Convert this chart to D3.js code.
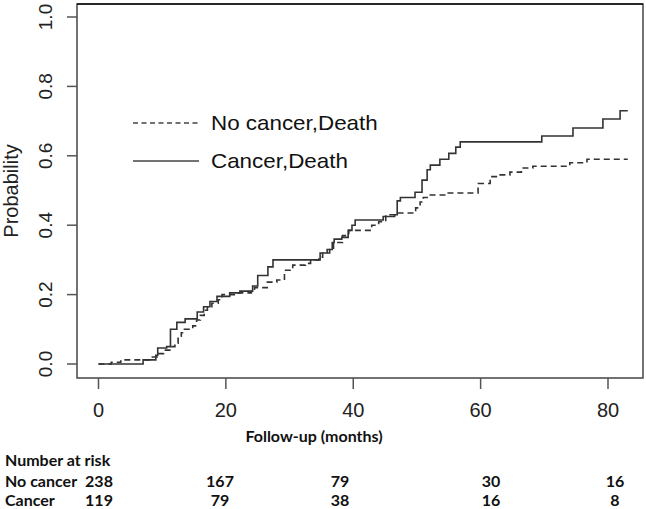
<!DOCTYPE html>
<html><head><meta charset="utf-8">
<script src="https://cdn.jsdelivr.net/npm/d3@7"></script>
<style>body{margin:0;background:#fff}svg{display:block}</style>
</head><body>
<svg id="c" width="646" height="509"></svg>
<script>
// ---- data ----
const cancerTimes = [0,7.0,9.0,9.3,10.7,11.3,12.3,13.6,15.5,16.5,17.5,18.6,20.6,22.2,24.2,25.0,26.6,27.4,34.8,35.9,36.7,37.0,38.2,39.2,39.8,40.3,44.7,46.5,46.9,47.4,49.7,50.8,51.6,52.1,53.6,55.0,56.1,56.8,69.6,74.5,79.2,81.9,83.1];
const cancerProb  = [0,0.012,0.025,0.046,0.05,0.10,0.12,0.13,0.15,0.165,0.18,0.195,0.205,0.21,0.225,0.255,0.28,0.30,0.32,0.33,0.35,0.36,0.365,0.385,0.40,0.415,0.425,0.43,0.47,0.48,0.495,0.53,0.56,0.573,0.59,0.607,0.625,0.64,0.657,0.68,0.706,0.73,0.73];
const noCancerTimes = [0,2.0,3.5,8.0,9.2,10.2,11.2,12.0,12.5,13.0,13.5,14.8,15.4,16.0,16.6,17.1,17.8,18.8,19.4,22.0,24.0,24.5,26.5,28.0,29.2,30.5,32.5,33.3,34.6,35.2,36.3,36.9,38.3,39.3,42.9,44.0,45.1,46.8,49.8,50.5,51.0,51.6,54.7,59.6,61.5,62.6,64.6,66.4,68.2,74.0,76.7,83.1];
const noCancerProb  = [0,0.005,0.012,0.02,0.03,0.04,0.05,0.06,0.08,0.09,0.10,0.11,0.127,0.14,0.155,0.165,0.175,0.185,0.20,0.205,0.213,0.22,0.236,0.242,0.27,0.285,0.29,0.30,0.308,0.32,0.33,0.35,0.37,0.385,0.40,0.41,0.43,0.435,0.45,0.467,0.48,0.487,0.493,0.52,0.54,0.545,0.553,0.565,0.57,0.58,0.59,0.59];
const xTicks = [0,20,40,60,80];
const yTicks = [0,0.2,0.4,0.6,0.8,1.0];
const riskGroups = ["No cancer","Cancer"];
const riskNoCancer = [238,167,79,30,16];
const riskCancer = [119,79,38,16,8];
const legendLabels = ["No cancer,Death","Cancer,Death"];

// ---- layout ----
const svg = d3.select("#c");
const x = d3.scaleLinear().domain([0,80]).range([98.5,608]);
const y = d3.scaleLinear().domain([0,1]).range([364,17]);
const box = {l:77,t:4,r:643,b:378};
const tickFont = "Liberation Sans, Arial, sans-serif";
const tableFont = "Lato, 'Open Sans', sans-serif";

// box
svg.append("path").attr("d",`M${box.l},${box.b}V${box.t}H${box.r}V${box.b}Z`)
  .attr("fill","none").attr("stroke","#444").attr("stroke-width",1.5);
svg.append("line").attr("x1",box.l).attr("x2",box.r).attr("y1",box.t).attr("y2",box.t).attr("stroke","#111").attr("stroke-width",1.5);

// y axis
const ya = svg.append("g");
yTicks.forEach(v=>{
  ya.append("line").attr("x1",box.l).attr("x2",box.l-10).attr("y1",y(v)).attr("y2",y(v)).attr("stroke","#555").attr("stroke-width",1.5);
  ya.append("text").attr("transform",`translate(${box.l-25},${y(v)}) rotate(-90)`)
    .attr("text-anchor","middle").attr("font-family",tickFont).attr("font-size",19).attr("fill","#222")
    .text(d3.format(".1f")(v));
});
svg.append("text").attr("transform",`translate(18,191) rotate(-90)`).attr("text-anchor","middle")
  .attr("font-family",tickFont).attr("font-size",20).attr("fill","#222").text("Probability");

// x axis
const xa = svg.append("g");
xTicks.forEach(v=>{
  xa.append("line").attr("x1",x(v)).attr("x2",x(v)).attr("y1",box.b).attr("y2",box.b+11).attr("stroke","#555").attr("stroke-width",1.5);
  xa.append("text").attr("x",x(v)).attr("y",417).attr("text-anchor","middle")
    .attr("font-family",tickFont).attr("font-size",20).attr("fill","#222").text(v);
});
svg.append("text").attr("x",314).attr("y",442).attr("text-anchor","middle")
  .attr("font-family",tableFont).attr("font-weight","bold").attr("font-size",16).attr("fill","#111").text("Follow-up (months)");

// curves
const line = d3.line().x(d=>x(d[0])).y(d=>y(d[1])).curve(d3.curveStepAfter);
const nc = noCancerTimes.map((t,i)=>[t,noCancerProb[i]]);
const ca = cancerTimes.map((t,i)=>[t,cancerProb[i]]);
svg.append("path").attr("d",line(nc)).attr("fill","none").attr("stroke","#333").attr("stroke-width",1.6).attr("stroke-dasharray","6,4");
svg.append("path").attr("d",line(ca)).attr("fill","none").attr("stroke","#333").attr("stroke-width",1.6);

// legend
const lg = svg.append("g");
legendLabels.forEach((lab,i)=>{
  const ly = 123 + i*38;
  lg.append("line").attr("x1",133).attr("x2",199).attr("y1",ly).attr("y2",ly)
    .attr("stroke","#444").attr("stroke-width",1.5).attr("stroke-dasharray",i===0?"5,3.5":null);
  lg.append("text").attr("transform",`translate(211,${ly+7}) scale(1.12,1)`).attr("font-family",tickFont).attr("font-size",20).attr("fill","#111").text(lab);
});

// risk table
const colX = d3.scaleOrdinal().domain(xTicks).range([99,220,340,491,615]);
svg.append("text").attr("x",5).attr("y",466).attr("font-family",tableFont).attr("font-weight","bold").attr("font-size",16).attr("fill","#111").text("Number at risk");
[riskNoCancer,riskCancer].forEach((row,i)=>{
  const ry = 487 + i*19;
  svg.append("text").attr("x",5).attr("y",ry).attr("font-family",tableFont).attr("font-weight","bold").attr("font-size",16).attr("fill","#111").text(riskGroups[i]);
  row.forEach((n,j)=>{
    svg.append("text").attr("x",colX(xTicks[j])).attr("y",ry).attr("text-anchor","middle")
      .attr("font-family",tableFont).attr("font-weight","bold").attr("font-size",16).attr("fill","#111").text(n);
  });
});
</script>
</body></html>
